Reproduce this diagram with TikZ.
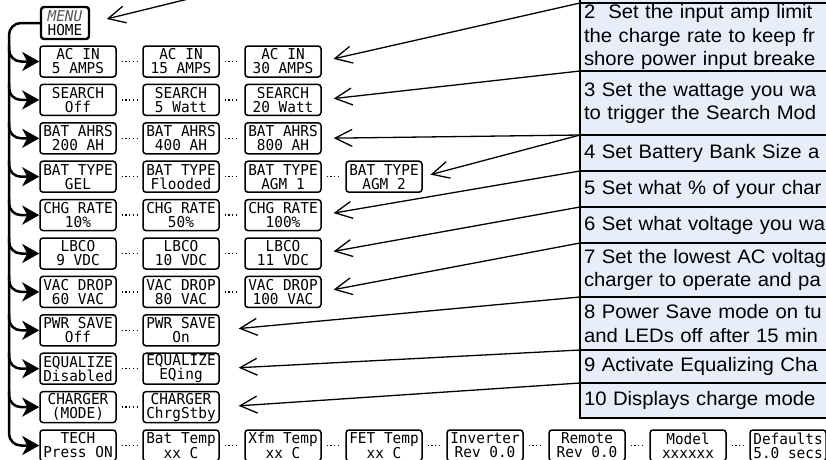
\documentclass[tikz,border=0pt]{standalone}
\usepackage{fontspec}
\usetikzlibrary{arrows.meta}
\newfontfamily\lcdfont[FakeStretch=0.96]{DejaVu Sans Mono}
\newfontfamily\notefont[FakeStretch=1.04]{Liberation Sans}
\definecolor{noteblue}{RGB}{231,237,249}
\definecolor{menugray}{RGB}{85,85,85}

\begin{document}
\begin{tikzpicture}[x=1pt, y=-1pt,
  lcd/.style={draw, line width=1.5pt, rounded corners=3pt, minimum width=76pt, minimum height=31pt, inner sep=0pt, align=center, font=\lcdfont\fontsize{15}{14}\selectfont},
  home/.style={lcd, line width=2.4pt, minimum width=48pt, minimum height=32pt},
  note/.style={draw, line width=1.2pt, fill=noteblue, anchor=north west, text width=312pt, inner xsep=4pt, inner ysep=0pt, outer sep=0pt, align=left, font=\notefont\fontsize{19.5}{23.5}\selectfont},
  trunk/.style={line width=2.5pt, rounded corners=12pt, -{Stealth[length=17pt, width=19pt, inset=5pt]}},
  dots/.style={line width=1.3pt, dash pattern=on 1.3pt off 2.4pt, shorten <=5pt, shorten >=5pt},
  pointer/.style={line width=1.3pt, -{Straight Barb[length=17pt, width=17pt]}}
]
  \useasboundingbox (0,0) rectangle (826,459);
  \clip (0,0) rectangle (826,459);

  % help text column
  \node[note, minimum height=100pt] (c1) at (580,-97) {};
  \node[note, minimum height=68pt] (c2) at (580,3) {2~ Set the input amp limit\\the charge rate to keep fr\\shore power input breake};
  \node[note, minimum height=64pt] (c3) at (580,71) {3 Set the wattage you wa\\to trigger the Search Mod};
  \node[note, minimum height=36pt] (c4) at (580,135) {4 Set Battery Bank Size a};
  \node[note, minimum height=36pt] (c5) at (580,171) {5 Set what \% of your char};
  \node[note, minimum height=36pt] (c6) at (580,207) {6 Set what voltage you wa};
  \node[note, minimum height=54pt] (c7) at (580,243) {7 Set the lowest AC voltag\\charger to operate and pa};
  \node[note, minimum height=53pt] (c8) at (580,297) {8 Power Save mode on tu\\and LEDs off after 15 min};
  \node[note, minimum height=33pt] (c9) at (580,350) {9 Activate Equalizing Cha};
  \node[note, minimum height=35pt] (c10) at (580,383) {10 Displays charge mode};

  % menu screens
  \node[home] (home) at (65,23) {{\itshape\color{menugray}MENU}\\HOME};

  \node[lcd] (acin5) at (78,61.5) {AC IN\\5 AMPS};
  \node[lcd] (acin15) at (181,61.5) {AC IN\\15 AMPS};
  \node[lcd] (acin30) at (283,61.5) {AC IN\\30 AMPS};

  \node[lcd] (search0) at (78,99.9) {SEARCH\\Off};
  \node[lcd] (search5) at (181,99.9) {SEARCH\\5 Watt};
  \node[lcd] (search20) at (283,99.9) {SEARCH\\20 Watt};

  \node[lcd] (ahrs200) at (78,138.3) {BAT AHRS\\200 AH};
  \node[lcd] (ahrs400) at (181,138.3) {BAT AHRS\\400 AH};
  \node[lcd] (ahrs800) at (283,138.3) {BAT AHRS\\800 AH};

  \node[lcd] (typegel) at (78,176.7) {BAT TYPE\\GEL};
  \node[lcd] (typeflood) at (181,176.7) {BAT TYPE\\Flooded};
  \node[lcd] (typeagmi) at (283,176.7) {BAT TYPE\\AGM 1};
  \node[lcd] (typeagmii) at (384,176.7) {BAT TYPE\\AGM 2};

  \node[lcd] (rate10) at (78,215.1) {CHG RATE\\10\%};
  \node[lcd] (rate50) at (181,215.1) {CHG RATE\\50\%};
  \node[lcd] (rate100) at (283,215.1) {CHG RATE\\100\%};

  \node[lcd] (lbco9) at (78,253.5) {LBCO\\9 VDC};
  \node[lcd] (lbco10) at (181,253.5) {LBCO\\10 VDC};
  \node[lcd] (lbco11) at (283,253.5) {LBCO\\11 VDC};

  \node[lcd] (vac60) at (78,291.9) {VAC DROP\\60 VAC};
  \node[lcd] (vac80) at (181,291.9) {VAC DROP\\80 VAC};
  \node[lcd] (vac100) at (283,291.9) {VAC DROP\\100 VAC};

  \node[lcd] (saveoff) at (78,330.3) {PWR SAVE\\Off};
  \node[lcd] (saveon) at (181,330.3) {PWR SAVE\\On};

  \node[lcd] (eqoff) at (78,368.7) {EQUALIZE\\Disabled};
  \node[lcd] (eqon) at (181,368.7) {EQUALIZE\\EQing};

  \node[lcd] (chgmode) at (78,407.1) {CHARGER\\(MODE)};
  \node[lcd] (chgstby) at (181,407.1) {CHARGER\\ChrgStby};

  \node[lcd] (tech) at (78,445.5) {TECH\\Press ON};
  \node[lcd] (battemp) at (181,445.5) {Bat Temp\\xx C};
  \node[lcd] (xfmtemp) at (283,445.5) {Xfm Temp\\xx C};
  \node[lcd] (fettemp) at (384,445.5) {FET Temp\\xx C};
  \node[lcd] (inverter) at (485,445.5) {Inverter\\Rev 0.0};
  \node[lcd] (remote) at (587,445.5) {Remote\\Rev 0.0};
  \node[lcd] (model) at (688,445.5) {Model\\xxxxxx};
  \node[lcd] (defaults) at (788,445.5) {Defaults\\5.0 secs};

  % scroll through the settings
  \foreach \a/\b in {acin5/acin15, acin15/acin30, search0/search5, search5/search20,
    ahrs200/ahrs400, ahrs400/ahrs800, typegel/typeflood, typeflood/typeagmi, typeagmi/typeagmii,
    rate10/rate50, rate50/rate100, lbco9/lbco10, lbco10/lbco11, vac60/vac80, vac80/vac100,
    saveoff/saveon, eqoff/eqon, chgmode/chgstby, tech/battemp, battemp/xfmtemp, xfmtemp/fettemp,
    fettemp/inverter, inverter/remote, remote/model, model/defaults}
    \draw[dots] (\a) -- (\b);

  % menu spine
  \coordinate (spine) at (9,23);
  \draw[trunk] (home.west) -| (spine |- tech.west) -- (tech.west);
  \foreach \n in {acin5, search0, ahrs200, typegel, rate10, lbco9, vac60, saveoff, eqoff, chgmode}
    \draw[trunk] (spine |- \n.north) |- (\n.west);

  % help text pointers
  \draw[pointer, shorten >=17pt] (c1.north west) -- (home.east);
  \draw[pointer, shorten >=12pt] (c2.north west) -- (acin30.east);
  \draw[pointer, shorten >=12pt] (c3.north west) -- (search20.east);
  \draw[pointer, shorten >=12pt] (c4.north west) -- (ahrs800.east);
  \draw[pointer, shorten >=8pt] (c4.north west) -- (typeagmii.east);
  \draw[pointer, shorten >=12pt] (c5.north west) -- (rate100.east);
  \draw[pointer, shorten >=12pt] (c6.north west) -- (lbco11.east);
  \draw[pointer, shorten >=12pt] (c7.north west) -- (vac100.east);
  \draw[pointer, shorten >=19pt] (c8.north west) -- (saveon.east);
  \draw[pointer, shorten >=19pt] (c9.north west) -- (eqon.east);
  \draw[pointer, shorten >=19pt] (c10.north west) -- (chgstby.east);
\end{tikzpicture}
\end{document}
